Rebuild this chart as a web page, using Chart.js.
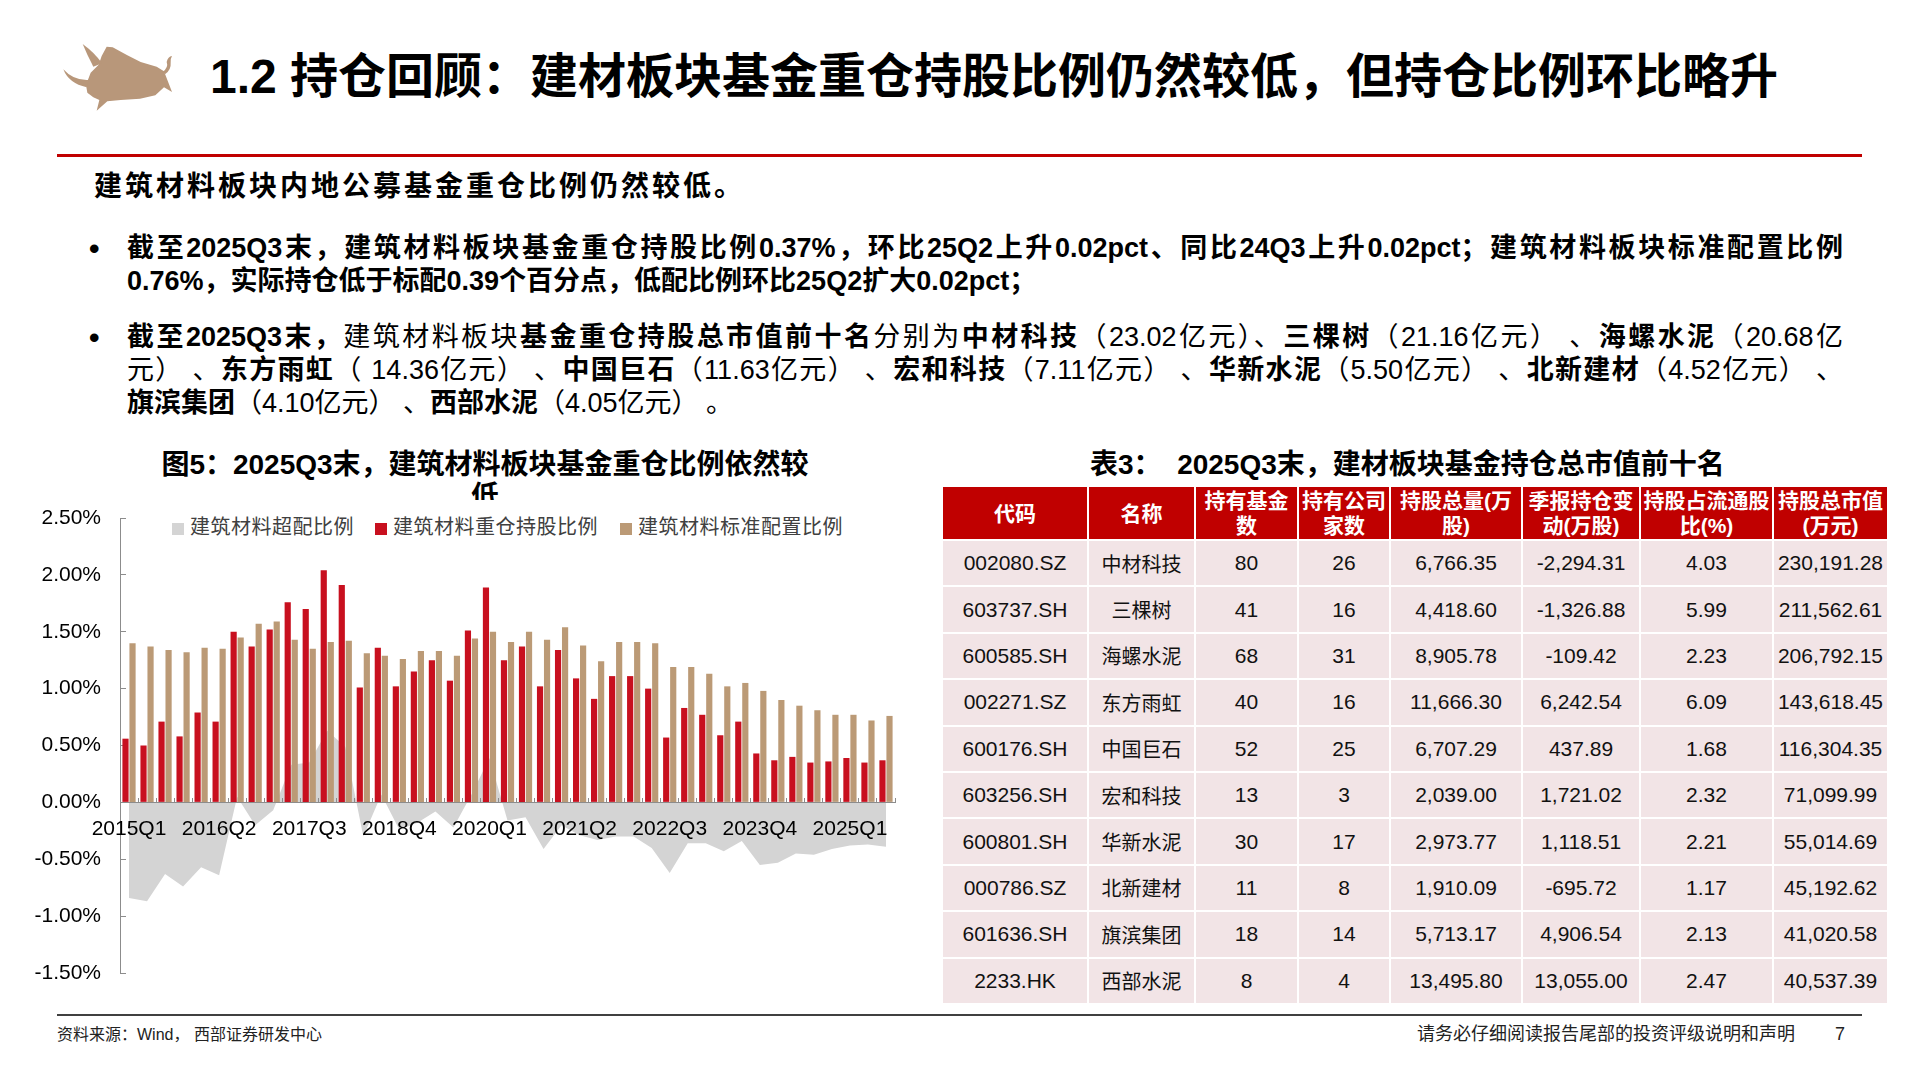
<!DOCTYPE html>
<html lang="zh-CN">
<head>
<meta charset="utf-8">
<title>建材板块基金持仓</title>
<script src="https://cdn.jsdelivr.net/npm/chart.js@4.4.0/dist/chart.umd.min.js"></script>
<style>
  html, body { margin: 0; padding: 0; background: #fff; }
  body {
    width: 1920px; height: 1080px; position: relative; overflow: hidden;
    font-family: "Liberation Sans", Arial, "Noto Sans CJK SC", sans-serif;
    color: #000;
  }
  .abs { position: absolute; }
  .title { left: 210px; top: 48px; font-size: 48px; font-weight: 700; line-height: 58px; white-space: nowrap; }
  .redline { left: 57px; top: 154px; width: 1805px; height: 3px; background: #c00000; }
  .sub { left: 94px; top: 170px; font-size: 28px; font-weight: 700; line-height: 34px; letter-spacing: 3px; white-space: nowrap; }
  .bullet { left: 127px; width: 1716px; font-size: 27px; line-height: 33px; }
  .bullet .line { display: block; white-space: nowrap; }
  .bullet .just { text-align: justify; text-align-last: justify; }
  .dot { font-size: 30px; font-weight: 700; line-height: 33px; left: 89px; }
  b { font-weight: 700; }
  .ctitle { left: 100px; width: 770px; top: 449px; height: 51px; overflow: hidden; text-align: center;
            font-size: 28px; font-weight: 700; line-height: 32px; }
  .ttitle { left: 1090px; top: 448px; font-size: 28px; font-weight: 700; line-height: 34px; white-space: nowrap; }
  .legend { top: 514px; font-size: 20px; line-height: 26px; color: #404040; white-space: nowrap; letter-spacing: 0.5px; }
  .legend i { display: inline-block; width: 12px; height: 12px; margin-right: 6px; vertical-align: -1px; }
  #chartBox { left: 30px; top: 500px; width: 880px; height: 490px; }
  table { position: absolute; left: 941px; top: 485px; border-collapse: collapse; table-layout: fixed; }
  th, td { border: 2px solid #fff; text-align: center; padding: 0; white-space: nowrap; }
  th { background: #c00000; color: #fff; font-size: 21px; font-weight: 700; line-height: 25px; height: 52px; }
  td { background: #f2e4e6; font-size: 21px; height: 44.4px; color: #111; }
  td.nm { font-size: 20px; }
  .foot-line { left: 57px; top: 1014px; width: 1805px; height: 2px; background: #404040; }
  .foot-l { left: 57px; top: 1024px; font-size: 16px; line-height: 22px; color: #222; white-space: nowrap; }
  .foot-r { left: 1417px; top: 1023px; font-size: 18px; line-height: 22px; color: #222; white-space: nowrap; }
  .page { left: 1835px; top: 1023px; font-size: 18px; line-height: 22px; color: #222; }
</style>
</head>
<body>

<svg class="abs" style="left:40px;top:30px" width="200" height="120" viewBox="0 0 600 360">
  <g fill="#b8977a" stroke="none">
    <path d="M138,165 L152,128 L176,104 L185,78 L200,50 L218,52 L262,76 L302,96 L350,110 L372,124 L396,186 L372,172 L346,196 L300,206 L242,210 L202,214 L170,242 L178,210 L160,202 L142,188 Z"/>
    <path d="M160,110 Q142,76 128,42 Q166,70 186,100 Z"/>
    <path d="M145,150 Q100,152 70,118 Q86,160 140,172 Z"/>
    <path d="M368,126 Q386,112 380,96 Q384,80 396,78 Q390,88 392,98 Q394,118 376,132 Z"/>
  </g>
</svg>

<div class="abs title">1.2 持仓回顾：建材板块基金重仓持股比例仍然较低，但持仓比例环比略升</div>
<div class="abs redline"></div>

<div class="abs sub">建筑材料板块内地公募基金重仓比例仍然较低。</div>

<div class="abs dot" style="top:232px">•</div>
<div class="abs bullet" style="top:232px">
  <span class="line just"><b>截至2025Q3末，建筑材料板块基金重仓持股比例0.37%，环比25Q2上升0.02pct、同比24Q3上升0.02pct；建筑材料板块标准配置比例</b></span>
  <span class="line"><b>0.76%，实际持仓低于标配0.39个百分点，低配比例环比25Q2扩大0.02pct；</b></span>
</div>

<div class="abs dot" style="top:321px">•</div>
<div class="abs bullet" style="top:321px">
  <span class="line just"><b>截至2025Q3末，</b>建筑材料板块<b>基金重仓持股总市值前十名</b>分别为<b>中材科技</b>（23.02亿元）、<b>三棵树</b>（21.16亿元） 、<b>海螺水泥</b>（20.68亿</span>
  <span class="line just">元） 、<b>东方雨虹</b>（ 14.36亿元） 、<b>中国巨石</b>（11.63亿元） 、<b>宏和科技</b>（7.11亿元） 、<b>华新水泥</b>（5.50亿元） 、<b>北新建材</b>（4.52亿元） 、</span>
  <span class="line"><b>旗滨集团</b>（4.10亿元） 、<b>西部水泥</b>（4.05亿元） 。</span>
</div>

<div class="abs ctitle">图5：2025Q3末，建筑材料板块基金重仓比例依然较<br>低</div>

<div class="abs legend" style="left:172px"><i style="background:#d4d4d4"></i>建筑材料超配比例</div>
<div class="abs legend" style="left:375px"><i style="background:#c8101f"></i>建筑材料重仓持股比例</div>
<div class="abs legend" style="left:620px"><i style="background:#bb9a76"></i>建筑材料标准配置比例</div>

<div class="abs" id="chartBox"><canvas id="holdChart"></canvas></div>

<div class="abs ttitle">表3：&nbsp;&nbsp;2025Q3末，建材板块基金持仓总市值前十名</div>
<table id="topTable">
  <colgroup>
    <col style="width:146px"><col style="width:107px"><col style="width:103px"><col style="width:92px">
    <col style="width:132px"><col style="width:118px"><col style="width:133px"><col style="width:115px">
  </colgroup>
  <thead>
    <tr>
      <th>代码</th><th>名称</th><th>持有基金<br>数</th><th>持有公司<br>家数</th>
      <th>持股总量(万<br>股)</th><th>季报持仓变<br>动(万股)</th><th>持股占流通股<br>比(%)</th><th>持股总市值<br>(万元)</th>
    </tr>
  </thead>
  <tbody></tbody>
</table>

<div class="abs foot-line"></div>
<div class="abs foot-l">资料来源：Wind， 西部证券研发中心</div>
<div class="abs foot-r">请务必仔细阅读报告尾部的投资评级说明和声明</div>
<div class="abs page">7</div>

<script>
const quarters = [
  "2015Q1", "2015Q2", "2015Q3", "2015Q4", "2016Q1", "2016Q2", "2016Q3", "2016Q4",
  "2017Q1", "2017Q2", "2017Q3", "2017Q4", "2018Q1", "2018Q2", "2018Q3", "2018Q4",
  "2019Q1", "2019Q2", "2019Q3", "2019Q4", "2020Q1", "2020Q2", "2020Q3", "2020Q4",
  "2021Q1", "2021Q2", "2021Q3", "2021Q4", "2022Q1", "2022Q2", "2022Q3", "2022Q4",
  "2023Q1", "2023Q2", "2023Q3", "2023Q4", "2024Q1", "2024Q2", "2024Q3", "2024Q4",
  "2025Q1", "2025Q2", "2025Q3"
];

// 建筑材料超配比例 (%)
const overweight = [
  -0.84, -0.87, -0.63, -0.74, -0.57, -0.64, 0.05, -0.20, -0.07, 0.33, 0.35,
  0.63, 0.49, -0.30, 0.07, -0.24, -0.18, -0.08, -0.22, 0.07, 0.39, -0.16,
  -0.13, -0.41, -0.20, -0.29, -0.33, -0.30, -0.30, -0.40, -0.62, -0.36, -0.36,
  -0.43, -0.34, -0.55, -0.53, -0.45, -0.46, -0.41, -0.38, -0.37, -0.39
];

// 建筑材料重仓持股比例 (%)
const heavyRatio = [
  0.56, 0.50, 0.71, 0.58, 0.79, 0.71, 1.50, 1.37, 1.52, 1.76, 1.70,
  2.04, 1.91, 1.01, 1.36, 1.02, 1.15, 1.25, 1.07, 1.51, 1.89, 1.25,
  1.37, 1.02, 1.34, 1.09, 0.91, 1.11, 1.11, 1.00, 0.57, 0.83, 0.77,
  0.59, 0.71, 0.43, 0.37, 0.40, 0.35, 0.36, 0.39, 0.35, 0.37
];

// 建筑材料标准配置比例 (%)
const standardRatio = [
  1.40, 1.37, 1.34, 1.32, 1.36, 1.35, 1.45, 1.57, 1.59, 1.43, 1.35,
  1.41, 1.42, 1.31, 1.29, 1.26, 1.33, 1.33, 1.29, 1.44, 1.50, 1.41,
  1.50, 1.43, 1.54, 1.38, 1.24, 1.41, 1.41, 1.40, 1.19, 1.19, 1.13,
  1.02, 1.05, 0.98, 0.90, 0.85, 0.81, 0.77, 0.77, 0.72, 0.76
];

const yTicks = ["-1.50%", "-1.00%", "-0.50%", "0.00%", "0.50%", "1.00%", "1.50%", "2.00%", "2.50%"];

const tableRows = [
  ["002080.SZ", "中材科技", "80", "26", "6,766.35", "-2,294.31", "4.03", "230,191.28"],
  ["603737.SH", "三棵树", "41", "16", "4,418.60", "-1,326.88", "5.99", "211,562.61"],
  ["600585.SH", "海螺水泥", "68", "31", "8,905.78", "-109.42", "2.23", "206,792.15"],
  ["002271.SZ", "东方雨虹", "40", "16", "11,666.30", "6,242.54", "6.09", "143,618.45"],
  ["600176.SH", "中国巨石", "52", "25", "6,707.29", "437.89", "1.68", "116,304.35"],
  ["603256.SH", "宏和科技", "13", "3", "2,039.00", "1,721.02", "2.32", "71,099.99"],
  ["600801.SH", "华新水泥", "30", "17", "2,973.77", "1,118.51", "2.21", "55,014.69"],
  ["000786.SZ", "北新建材", "11", "8", "1,910.09", "-695.72", "1.17", "45,192.62"],
  ["601636.SH", "旗滨集团", "18", "14", "5,713.17", "4,906.54", "2.13", "41,020.58"],
  ["2233.HK", "西部水泥", "8", "4", "13,495.80", "13,055.00", "2.47", "40,537.39"]
];

const tbody = document.querySelector("#topTable tbody");
tableRows.forEach(function (row) {
  const tr = document.createElement("tr");
  row.forEach(function (cell, i) {
    const td = document.createElement("td");
    td.textContent = cell;
    if (i === 1) td.className = "nm";
    tr.appendChild(td);
  });
  tbody.appendChild(tr);
});

const fontFamily = '"Liberation Sans", Arial, "Noto Sans CJK SC", sans-serif';

new Chart(document.getElementById("holdChart"), {
  type: "bar",
  data: {
    labels: quarters,
    datasets: [
      {
        type: "line",
        label: "建筑材料超配比例",
        data: overweight,
        fill: "origin",
        backgroundColor: "#d4d4d4",
        borderWidth: 0,
        pointRadius: 0,
        tension: 0,
        order: 3,
      },
      {
        label: "建筑材料重仓持股比例",
        data: heavyRatio,
        backgroundColor: "#c8101f",
        categoryPercentage: 0.78,
        barPercentage: 0.88,
        order: 1,
      },
      {
        label: "建筑材料标准配置比例",
        data: standardRatio,
        backgroundColor: "#bb9a76",
        categoryPercentage: 0.78,
        barPercentage: 0.88,
        order: 1,
      },
    ],
  },
  options: {
    responsive: true,
    maintainAspectRatio: false,
    animation: false,
    layout: { padding: { top: 18, right: 15, bottom: 17, left: 0 } },
    plugins: {
      legend: { display: false },
      tooltip: { enabled: false },
    },
    scales: {
      x: {
        position: { y: 0 },
        offset: true,
        afterFit: function (scale) { scale.height = 0; },
        border: { display: true, color: "#8c8c8c", width: 1, z: 1 },
        grid: { display: true, drawOnChartArea: false, offset: true, tickLength: -5, color: "#8c8c8c", z: 1 },
        ticks: {
          autoSkip: false,
          maxRotation: 0,
          padding: 19,
          z: 1,
          color: "#000",
          font: { family: fontFamily, size: 21 },
          callback: function (value, index) {
            return index % 5 === 0 ? quarters[index] : "";
          },
        },
      },
      y: {
        min: -1.5,
        max: 2.5,
        border: { display: true, color: "#8c8c8c", width: 1 },
        grid: { display: true, drawOnChartArea: false, tickLength: -6, color: "#8c8c8c" },
        afterFit: function (scale) {
          scale.width = 90;
          scale.paddingTop = 0;
          scale.paddingBottom = 0;
        },
        ticks: {
          stepSize: 0.5,
          padding: 25,
          color: "#000",
          font: { family: fontFamily, size: 21 },
          callback: function (value, index) {
            return yTicks[index];
          },
        },
      },
    },
  },
});
</script>
</body>
</html>
